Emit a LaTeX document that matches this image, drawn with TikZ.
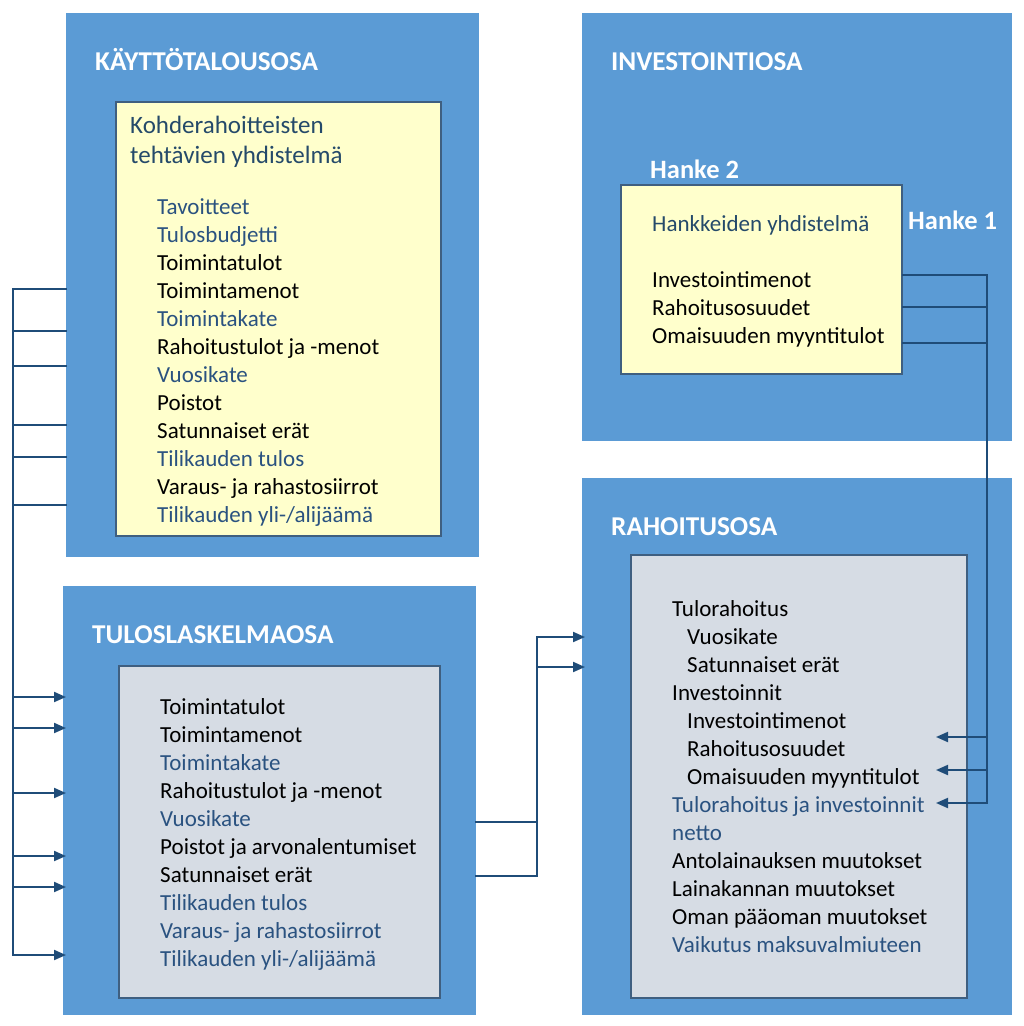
\documentclass[tikz,border=0pt]{standalone}
\usepackage{fontspec}
\setmainfont{Carlito}
\usetikzlibrary{arrows.meta}
\definecolor{bbox}{HTML}{5B9BD5}
\definecolor{ybox}{HTML}{FFFFCC}
\definecolor{gbox}{HTML}{D6DCE4}
\definecolor{tblue}{HTML}{2A5280}
\definecolor{ttitle}{HTML}{254A6A}
\definecolor{conncol}{HTML}{1F4C78}
\definecolor{inborder}{HTML}{3F5F80}
\begin{document}
\begin{tikzpicture}[x=1pt,y=-1pt,
  outerbox/.style={fill=bbox,draw=none,anchor=north west,inner sep=0pt},
  ybx/.style={fill=ybox,draw=inborder,line width=1.5pt,anchor=north west,inner sep=0pt},
  gbx/.style={fill=gbox,draw=inborder,line width=1.5pt,anchor=north west,inner sep=0pt},
  txt/.style={anchor=base west,inner sep=0pt,font=\fontsize{23}{28}\selectfont,text=black},
  btxt/.style={txt,text=tblue},
  ttl/.style={anchor=base west,inner sep=0pt,font=\fontsize{25}{30}\selectfont,text=ttitle},
  head/.style={anchor=base west,inner sep=0pt,font=\fontsize{27.2}{30}\selectfont\bfseries,text=white},
  hanke/.style={anchor=base west,inner sep=0pt,font=\fontsize{26.5}{30}\selectfont\bfseries,text=white},
  cline/.style={draw=conncol,line width=2pt,line cap=rect},
  carrow/.style={draw=conncol,line width=2pt,-{Triangle[length=12pt,width=10pt]}}]
\useasboundingbox (0,0) rectangle (1024,1026);
\fill[white] (0,0) rectangle (1024,1026);

% outer boxes
\node[outerbox,minimum width=413pt,minimum height=544pt] (kbox) at (66,13) {};
\node[outerbox,minimum width=430pt,minimum height=428pt] (ibox) at (582,13) {};
\node[outerbox,minimum width=413pt,minimum height=429pt] (tbox) at (63,586) {};
\node[outerbox,minimum width=430pt,minimum height=537pt] (rbox) at (582,478) {};

% inner boxes
\node[ybx,minimum width=325pt,minimum height=434pt] (kin) at (115,101) {};
\node[ybx,minimum width=281pt,minimum height=189pt] (iin) at (620,184) {};
\node[gbx,minimum width=321pt,minimum height=332pt] (tin) at (118,665) {};
\node[gbx,minimum width=336pt,minimum height=443pt] (rin) at (630,554) {};

% headings
\node[head] (hk) at (95,70) {KÄYTTÖTALOUSOSA};
\node[head] (hi) at (611,70) {INVESTOINTIOSA};
\node[head] (ht) at (92,643) {TULOSLASKELMAOSA};
\node[head] (hr) at (611,535) {RAHOITUSOSA};
\node[hanke] (h2) at (650,178) {Hanke 2};
\node[hanke] (h1) at (908,229) {Hanke 1};

% Kayttotalousosa content
\node[ttl] (kt1) at (130,133) {Kohderahoitteisten};
\node[ttl] (kt2) at (130,163) {tehtävien yhdistelmä};
\node[btxt] (k1) at (157,214) {Tavoitteet};
\node[btxt] (k2) at (157,242) {Tulosbudjetti};
\node[txt] (k3) at (157,270) {Toimintatulot};
\node[txt] (k4) at (157,298) {Toimintamenot};
\node[btxt] (k5) at (157,326) {Toimintakate};
\node[txt] (k6) at (157,354) {Rahoitustulot ja -menot};
\node[btxt] (k7) at (157,382) {Vuosikate};
\node[txt] (k8) at (157,410) {Poistot};
\node[txt] (k9) at (157,438) {Satunnaiset erät};
\node[btxt] (k10) at (157,466) {Tilikauden tulos};
\node[txt] (k11) at (157,494) {Varaus- ja rahastosiirrot};
\node[btxt] (k12) at (157,522) {Tilikauden yli-/alijäämä};

% Investointiosa content
\node[btxt,text=ttitle] (i0) at (652,231) {Hankkeiden yhdistelmä};
\node[txt] (i1) at (652,287) {Investointimenot};
\node[txt] (i2) at (652,315) {Rahoitusosuudet};
\node[txt] (i3) at (652,343) {Omaisuuden myyntitulot};

% Tuloslaskelmaosa content
\node[txt] (t1) at (160,714) {Toimintatulot};
\node[txt] (t2) at (160,742) {Toimintamenot};
\node[btxt] (t3) at (160,770) {Toimintakate};
\node[txt] (t4) at (160,798) {Rahoitustulot ja -menot};
\node[btxt] (t5) at (160,826) {Vuosikate};
\node[txt] (t6) at (160,854) {Poistot ja arvonalentumiset};
\node[txt] (t7) at (160,882) {Satunnaiset erät};
\node[btxt] (t8) at (160,910) {Tilikauden tulos};
\node[btxt] (t9) at (160,938) {Varaus- ja rahastosiirrot};
\node[btxt] (t10) at (160,966) {Tilikauden yli-/alijäämä};

% Rahoitusosa content
\node[txt] (r1) at (672,616) {Tulorahoitus};
\node[txt] (r2) at (687,644) {Vuosikate};
\node[txt] (r3) at (687,672) {Satunnaiset erät};
\node[txt] (r4) at (672,700) {Investoinnit};
\node[txt] (r5) at (687,728) {Investointimenot};
\node[txt] (r6) at (687,756) {Rahoitusosuudet};
\node[txt] (r7) at (687,784) {Omaisuuden myyntitulot};
\node[btxt] (r8) at (672,812) {Tulorahoitus ja investoinnit};
\node[btxt] (r9) at (672,840) {netto};
\node[txt] (r10) at (672,868) {Antolainauksen muutokset};
\node[txt] (r11) at (672,896) {Lainakannan muutokset};
\node[txt] (r12) at (672,924) {Oman pääoman muutokset};
\node[btxt] (r13) at (672,952) {Vaikutus maksuvalmiuteen};

% left connectors
\coordinate (lk1) at (13,289);
\coordinate (lk2) at (13,331);
\coordinate (lk3) at (13,366);
\coordinate (lk4) at (13,425);
\coordinate (lk5) at (13,457);
\coordinate (lk6) at (13,505);
\coordinate (lt1) at (13,697);
\coordinate (lt2) at (13,728);
\coordinate (lt3) at (13,793);
\coordinate (lt4) at (13,856);
\coordinate (lt5) at (13,887);
\coordinate (lt6) at (13,955);
\draw[cline] (lk1) -- (lt6);
\foreach \n in {1,...,6} {
  \draw[cline] (lk\n) -- (kbox.west |- lk\n);
  \draw[carrow] (lt\n) -- ([xshift=3pt]tbox.west |- lt\n);
}

% middle connectors
\coordinate (m1) at (537,637);
\coordinate (m2) at (537,667);
\coordinate (m3) at (537,822);
\coordinate (m4) at (537,876);
\draw[cline] (m1) -- (m4);
\draw[cline] (tbox.east |- m3) -- (m3);
\draw[cline] (tbox.east |- m4) -- (m4);
\draw[carrow] (m1) -- ([xshift=3pt]rbox.west |- m1);
\draw[carrow] (m2) -- ([xshift=3pt]rbox.west |- m2);

% right connectors
\coordinate (q1) at (987,275);
\coordinate (q2) at (987,307);
\coordinate (q3) at (987,343);
\coordinate (q4) at (987,737);
\coordinate (q5) at (987,770);
\coordinate (q6) at (987,803);
\coordinate (e4) at (936,737);
\coordinate (e5) at (936,770);
\coordinate (e6) at (936,803);
\draw[cline] (q1) -- (q6);
\draw[cline] (iin.east |- q1) -- (q1);
\draw[cline] (iin.east |- q2) -- (q2);
\draw[cline] (iin.east |- q3) -- (q3);
\draw[carrow] (q4) -- (e4);
\draw[carrow] (q5) -- (e5);
\draw[carrow] (q6) -- (e6);
\end{tikzpicture}
\end{document}
